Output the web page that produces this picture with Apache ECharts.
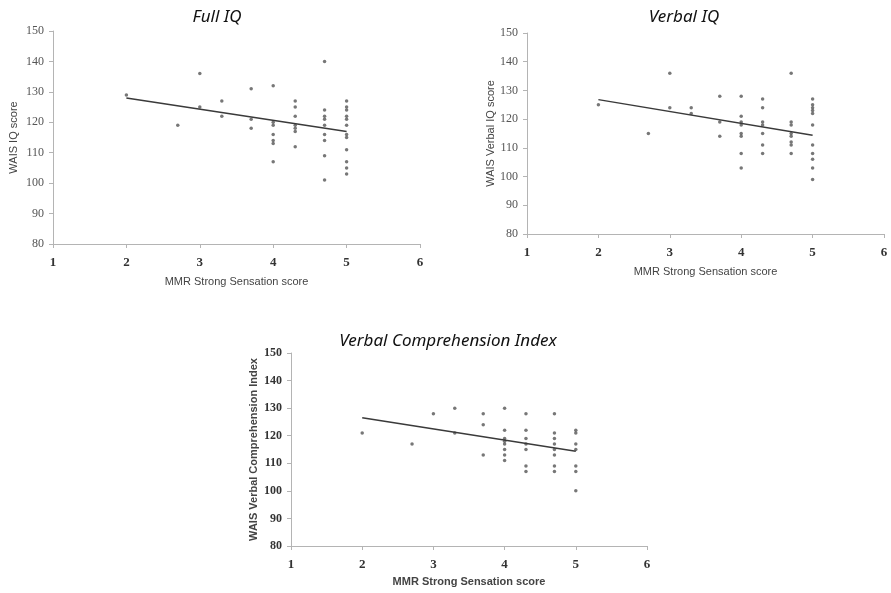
<!DOCTYPE html>
<html>
<head>
<meta charset="utf-8">
<script src="https://cdn.jsdelivr.net/npm/echarts@6/dist/echarts.min.js"></script>
<style>
  html, body { margin: 0; padding: 0; background: #fff; }
  #chart { width: 891px; height: 593px; }
</style>
</head>
<body>
<div id="chart"></div>
<script>
  let titles = ['Full IQ', 'Verbal IQ', 'Verbal Comprehension Index']
  let yNames = ['WAIS IQ score', 'WAIS Verbal IQ score', 'WAIS Verbal Comprehension Index']
  let xName = 'MMR Strong Sensation score'

  let fullIQ = [
    [2, 129], [2.7, 119], [3, 136], [3, 125], [3.3, 127], [3.3, 122],
    [3.7, 131], [3.7, 121], [3.7, 118],
    [4, 132], [4, 120], [4, 119], [4, 116], [4, 114], [4, 113], [4, 107],
    [4.3, 127], [4.3, 125], [4.3, 122], [4.3, 119], [4.3, 118], [4.3, 117], [4.3, 112],
    [4.7, 140], [4.7, 124], [4.7, 122], [4.7, 121], [4.7, 119], [4.7, 116], [4.7, 114], [4.7, 109], [4.7, 101],
    [5, 127], [5, 125], [5, 124], [5, 122], [5, 121], [5, 119], [5, 116], [5, 115], [5, 111], [5, 107], [5, 105], [5, 103]
  ]
  let fullTrend = [[2, 128], [5, 117]]

  let verbalIQ = [
    [2, 125], [2.7, 115], [3, 136], [3, 124], [3.3, 124], [3.3, 122],
    [3.7, 128], [3.7, 119], [3.7, 114],
    [4, 128], [4, 121], [4, 119], [4, 118], [4, 115], [4, 114], [4, 108], [4, 103],
    [4.3, 127], [4.3, 124], [4.3, 119], [4.3, 118], [4.3, 115], [4.3, 111], [4.3, 108],
    [4.7, 136], [4.7, 119], [4.7, 118], [4.7, 115], [4.7, 114], [4.7, 112], [4.7, 111], [4.7, 108],
    [5, 127], [5, 125], [5, 124], [5, 123], [5, 122], [5, 118], [5, 111], [5, 108], [5, 106], [5, 103], [5, 99]
  ]
  let verbalTrend = [[2, 126.8], [5, 114.4]]

  let vci = [
    [2, 121], [2.7, 117], [3, 128], [3.3, 130], [3.3, 121],
    [3.7, 128], [3.7, 124], [3.7, 113],
    [4, 130], [4, 122], [4, 119], [4, 118], [4, 117], [4, 115], [4, 113], [4, 111],
    [4.3, 128], [4.3, 122], [4.3, 119], [4.3, 117], [4.3, 115], [4.3, 109], [4.3, 107],
    [4.7, 128], [4.7, 121], [4.7, 119], [4.7, 117], [4.7, 115], [4.7, 113], [4.7, 109], [4.7, 107],
    [5, 122], [5, 121], [5, 117], [5, 115], [5, 109], [5, 107], [5, 100]
  ]
  let vciTrend = [[2, 126.5], [5, 114.4]]

  let points = [fullIQ, verbalIQ, vci]
  let trends = [fullTrend, verbalTrend, vciTrend]

  let grids = [
    {left: 53, top: 31, width: 367, height: 213},
    {left: 527, top: 33, width: 357, height: 201},
    {left: 291, top: 353, width: 356, height: 193}
  ]
  let titlePos = [[212, 4], [679, 4], [443, 328]]
  let bold = [false, false, true]

  let axisLine = {show: true, lineStyle: {color: '#b4b4b4', width: 1}}
  let axisTick = {show: true, length: 4, lineStyle: {color: '#b4b4b4'}}

  let option = {
    animation: false,
    backgroundColor: '#fff',
    title: titles.map((t, i) => ({
      text: t,
      left: titlePos[i][0],
      top: titlePos[i][1],
      textAlign: 'center',
      textStyle: {fontFamily: 'Noto Sans', fontStyle: 'italic', fontWeight: 'normal', fontSize: 17, color: '#111'}
    })),
    grid: grids,
    xAxis: grids.map((g, i) => ({
      type: 'value', gridIndex: i, min: 1, max: 6, interval: 1,
      name: xName, nameLocation: 'middle', nameGap: i == 2 ? 30 : 32,
      nameTextStyle: {fontFamily: 'Liberation Sans', fontSize: 11, color: '#444', fontWeight: bold[i] ? 'bold' : 'normal'},
      axisLine: axisLine, axisTick: axisTick, splitLine: {show: false},
      axisLabel: {margin: 12, fontFamily: 'Liberation Serif', fontSize: 13, color: '#333', fontWeight: 'bold'}
    })),
    yAxis: grids.map((g, i) => ({
      type: 'value', gridIndex: i, min: 80, max: 150, interval: 10,
      name: yNames[i], nameLocation: 'middle', nameGap: [34, 31, 32][i],
      nameTextStyle: {fontFamily: 'Liberation Sans', fontSize: 11, color: '#444', fontWeight: bold[i] ? 'bold' : 'normal'},
      axisLine: axisLine, axisTick: axisTick, splitLine: {show: false},
      axisLabel: {margin: 9, fontFamily: 'Liberation Serif', fontSize: 12, color: bold[i] ? '#333' : '#555', fontWeight: bold[i] ? 'bold' : 'normal'}
    })),
    series: []
  }

  points.forEach((p, i) => {
    option.series.push({
      type: 'scatter', xAxisIndex: i, yAxisIndex: i, data: p,
      symbol: 'circle', symbolSize: 3.5, itemStyle: {color: '#555'}
    })
    option.series.push({
      type: 'line', xAxisIndex: i, yAxisIndex: i, data: trends[i],
      symbol: 'none', lineStyle: {color: '#3a3a3a', width: 1.5}
    })
  })

  let chart = echarts.init(document.getElementById('chart'))
  chart.setOption(option)
</script>
</body>
</html>
